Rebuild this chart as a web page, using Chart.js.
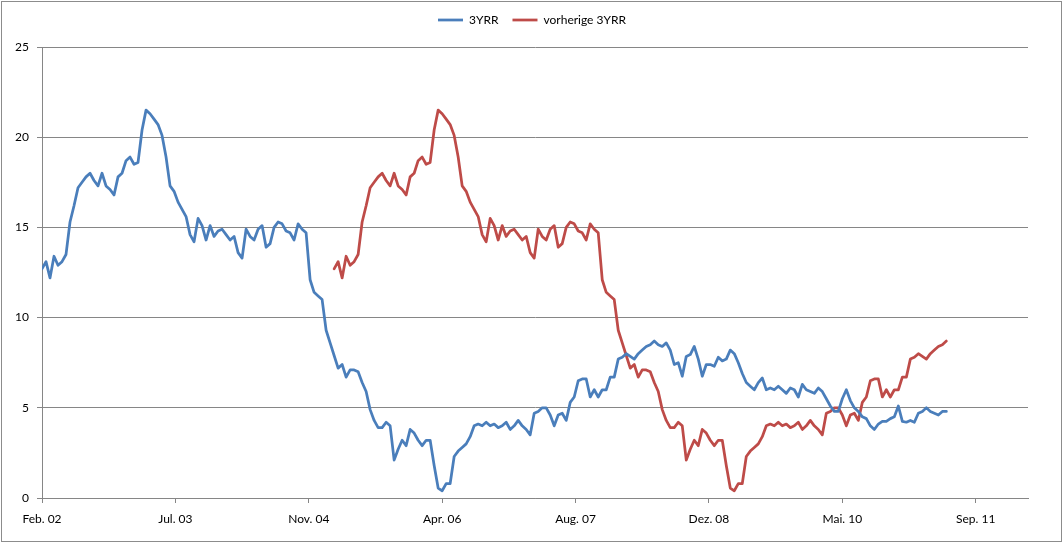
<!DOCTYPE html>
<html>
<head>
<meta charset="utf-8">
<script src="https://cdn.jsdelivr.net/npm/chart.js@4/dist/chart.umd.min.js"></script>
<style>
html,body{margin:0;padding:0;background:#ffffff;}
#wrap{width:1064px;height:544px;position:relative;}
canvas{display:block;}
</style>
</head>
<body>
<div id="wrap"><canvas id="c" width="1064" height="544"></canvas></div>
<script>
// X axis tick labels (one every tickStepDays)
const tickLabels = ['Feb. 02','Jul. 03','Nov. 04','Apr. 06','Aug. 07','Dez. 08','Mai. 10','Sep. 11'];
const tickStepDays = 500;
const axisMaxDays = 3696;

// sampling of the series (days between readings) and shift of the previous series
const sampleStepDays = 15;
const previousShiftDays = 1095;

// 3YRR (blue)
const threeYrr = [
 12.7,13.1,12.2,13.4,12.9,13.1,13.5,15.3,16.2,17.2,
 17.5,17.8,18.0,17.6,17.3,18.0,17.3,17.1,16.8,17.8,
 18.0,18.7,18.9,18.5,18.6,20.4,21.5,21.3,21.0,20.7,
 20.1,18.9,17.3,17.0,16.4,16.0,15.6,14.6,14.2,15.5,
 15.1,14.3,15.1,14.5,14.8,14.9,14.6,14.3,14.5,13.6,
 13.3,14.9,14.5,14.3,14.9,15.1,13.9,14.1,15.0,15.3,
 15.2,14.8,14.7,14.3,15.2,14.9,14.7,12.1,11.4,11.2,
 11.0,9.3,8.6,7.9,7.2,7.4,6.7,7.1,7.1,7.0,
 6.4,5.9,4.9,4.3,3.9,3.9,4.2,4.0,2.1,2.7,
 3.2,2.9,3.8,3.6,3.2,2.9,3.2,3.2,1.8,0.55,
 0.4,0.8,0.8,2.3,2.6,2.8,3.0,3.4,4.0,4.1,
 4.0,4.2,4.0,4.1,3.9,4.0,4.2,3.8,4.0,4.3,
 4.0,3.8,3.5,4.7,4.8,5.0,5.0,4.6,4.0,4.6,
 4.7,4.3,5.3,5.6,6.5,6.6,6.6,5.6,6.0,5.6,
 6.0,6.0,6.7,6.7,7.7,7.8,8.0,7.85,7.7,8.0,
 8.2,8.4,8.5,8.7,8.5,8.4,8.6,8.2,7.4,7.5,
 6.75,7.85,7.95,8.4,7.7,6.75,7.4,7.4,7.3,7.8,
 7.6,7.7,8.2,8.0,7.5,6.9,6.4,6.2,6.0,6.4,
 6.65,6.0,6.1,6.0,6.2,6.0,5.8,6.1,6.0,5.6,
 6.3,6.0,5.9,5.8,6.1,5.9,5.5,5.1,4.8,4.8,
 5.5,6.0,5.4,5.0,4.8,4.5,4.4,4.0,3.8,4.1,
 4.25,4.25,4.4,4.5,5.1,4.25,4.2,4.3,4.2,4.7,
 4.8,5.0,4.8,4.7,4.6,4.8,4.8
];

// vorherige 3YRR (red)
const previousThreeYrr = [
 12.7,13.1,12.2,13.4,12.9,13.1,13.5,15.3,16.2,17.2,
 17.5,17.8,18.0,17.6,17.3,18.0,17.3,17.1,16.8,17.8,
 18.0,18.7,18.9,18.5,18.6,20.4,21.5,21.3,21.0,20.7,
 20.1,18.9,17.3,17.0,16.4,16.0,15.6,14.6,14.2,15.5,
 15.1,14.3,15.1,14.5,14.8,14.9,14.6,14.3,14.5,13.6,
 13.3,14.9,14.5,14.3,14.9,15.1,13.9,14.1,15.0,15.3,
 15.2,14.8,14.7,14.3,15.2,14.9,14.7,12.1,11.4,11.2,
 11.0,9.3,8.6,7.9,7.2,7.4,6.7,7.1,7.1,7.0,
 6.4,5.9,4.9,4.3,3.9,3.9,4.2,4.0,2.1,2.7,
 3.2,2.9,3.8,3.6,3.2,2.9,3.2,3.2,1.8,0.55,
 0.4,0.8,0.8,2.3,2.6,2.8,3.0,3.4,4.0,4.1,
 4.0,4.2,4.0,4.1,3.9,4.0,4.2,3.8,4.0,4.3,
 4.0,3.8,3.5,4.7,4.8,5.0,5.0,4.6,4.0,4.6,
 4.7,4.3,5.3,5.6,6.5,6.6,6.6,5.6,6.0,5.6,
 6.0,6.0,6.7,6.7,7.7,7.8,8.0,7.85,7.7,8.0,
 8.2,8.4,8.5,8.7
];

const blueColor = '#4A7EBB';
const redColor = '#BE4B48';
const gridColor = '#868686';
const fontFamily = 'Lato, "Liberation Sans", sans-serif';

const blueData = threeYrr.map((v, i) => ({x: i * sampleStepDays, y: v}));
const redData = previousThreeYrr.map((v, i) => ({x: previousShiftDays + i * sampleStepDays, y: v}));

const legendFit = {
  id: 'legendFit',
  beforeInit(chart) {
    const lg = chart.legend;
    if (!lg || lg._patched) return;
    const orig = lg.fit;
    lg.fit = function () { orig.call(this); this.height = 47; };
    lg._patched = true;
  }
};

const frame = {
  id: 'frame',
  afterDraw(chart) {
    const ctx = chart.ctx;
    ctx.save();
    ctx.strokeStyle = '#8c8c8c';
    ctx.lineWidth = 1;
    ctx.strokeRect(1.5, 1.5, 1060, 540);
    ctx.restore();
  }
};

new Chart(document.getElementById('c'), {
  type: 'line',
  data: {
    datasets: [
      {label: '3YRR', data: blueData, borderColor: blueColor, backgroundColor: blueColor,
       borderWidth: 2.75, pointRadius: 0, tension: 0, fill: false, borderJoinStyle: 'round', borderCapStyle: 'round'},
      {label: 'vorherige 3YRR', data: redData, borderColor: redColor, backgroundColor: redColor,
       borderWidth: 2.75, pointRadius: 0, tension: 0, fill: false, borderJoinStyle: 'round', borderCapStyle: 'round'}
    ]
  },
  options: {
    responsive: false,
    animation: false,
    events: [],
    layout: {padding: 0},
    plugins: {
      legend: {
        position: 'top',
        labels: {
          usePointStyle: true, pointStyle: 'line', pointStyleWidth: 25, boxHeight: 12,
          padding: 14, color: '#000', font: {family: fontFamily, size: 12}
        }
      },
      tooltip: {enabled: false}
    },
    scales: {
      x: {
        type: 'linear', min: 0, max: axisMaxDays, bounds: 'data',
        afterFit(s) { s.height = 46; },
        afterBuildTicks(s) { s.ticks = tickLabels.map((_, i) => ({value: i * tickStepDays})); },
        ticks: {
          autoSkip: false, maxRotation: 0,
          padding: 9, color: '#000', font: {family: fontFamily, size: 12},
          callback: (v) => tickLabels[Math.round(v / tickStepDays)] || ''
        },
        grid: {drawOnChartArea: false, drawTicks: true, tickLength: 5, color: gridColor},
        border: {color: gridColor, width: 1}
      },
      y: {
        min: 0, max: 25,
        afterFit(s) { s.width = 42; },
        ticks: {stepSize: 5, padding: 8, color: '#000', font: {family: fontFamily, size: 12}},
        grid: {color: gridColor, tickLength: 5, drawTicks: true},
        border: {color: gridColor, width: 1}
      },
      yRight: {
        position: 'right', min: 0, max: 25,
        afterFit(s) { s.width = 36; },
        ticks: {display: false},
        grid: {display: false, drawOnChartArea: false},
        border: {display: false}
      }
    }
  },
  plugins: [legendFit, frame]
});
</script>
</body>
</html>
